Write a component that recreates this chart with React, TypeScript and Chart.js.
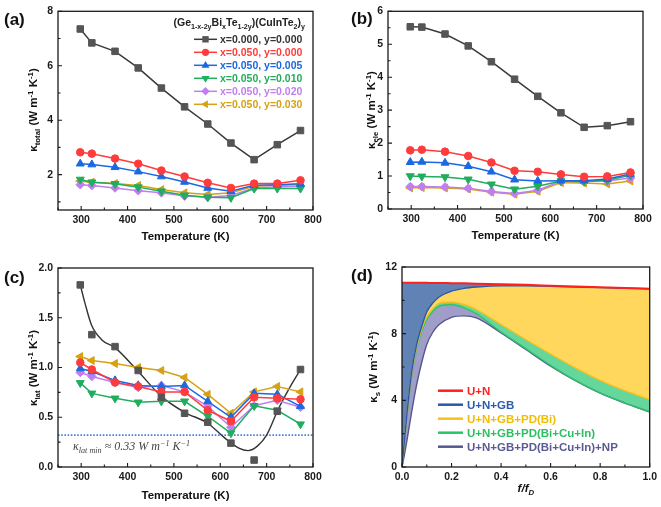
import React, { useEffect, useRef } from 'react';
import { Chart, registerables } from 'chart.js';
Chart.register(...registerables);

// ---------------- data ----------------
const temps = [298, 323, 373, 423, 473, 523, 573, 623, 673, 723, 773];
const seriesLabels = ['x=0.000, y=0.000', 'x=0.050, y=0.000', 'x=0.050, y=0.005', 'x=0.050, y=0.010', 'x=0.050, y=0.020', 'x=0.050, y=0.030'];

const kTot0 = [7.35, 6.84, 6.53, 5.92, 5.18, 4.49, 3.86, 3.16, 2.55, 3.10, 3.62];
const kTot1 = [2.82, 2.77, 2.59, 2.40, 2.15, 1.93, 1.70, 1.51, 1.67, 1.67, 1.79];
const kTot2 = [2.40, 2.37, 2.27, 2.11, 1.93, 1.73, 1.51, 1.39, 1.61, 1.63, 1.66];
const kTot3 = [1.82, 1.72, 1.66, 1.54, 1.39, 1.24, 1.17, 1.15, 1.49, 1.49, 1.49];
const kTot4 = [1.63, 1.60, 1.51, 1.41, 1.33, 1.21, 1.17, 1.23, 1.51, 1.55, 1.57];
const kTot5 = [1.76, 1.72, 1.67, 1.60, 1.45, 1.33, 1.27, 1.33, 1.57, 1.61, 1.63];

const kEle0 = [5.53, 5.52, 5.31, 4.95, 4.47, 3.94, 3.42, 2.92, 2.48, 2.53, 2.65];
const kEle1 = [1.78, 1.80, 1.74, 1.61, 1.41, 1.16, 1.13, 1.05, 0.98, 0.99, 1.11];
const kEle2 = [1.42, 1.43, 1.40, 1.30, 1.13, 0.89, 0.85, 0.86, 0.86, 0.91, 1.06];
const kEle3 = [1.00, 0.99, 0.97, 0.90, 0.75, 0.60, 0.69, 0.85, 0.83, 0.87, 1.02];
const kEle4 = [0.68, 0.68, 0.67, 0.63, 0.53, 0.47, 0.57, 0.84, 0.84, 0.85, 0.94];
const kEle5 = [0.64, 0.65, 0.64, 0.61, 0.51, 0.45, 0.54, 0.80, 0.79, 0.76, 0.85];

const kLat0 = [1.83, 1.33, 1.21, 0.97, 0.70, 0.54, 0.45, 0.24, 0.07, 0.56, 0.98];
const kLat1 = [1.05, 0.98, 0.85, 0.81, 0.755, 0.755, 0.57, 0.46, 0.70, 0.69, 0.68];
const kLat2 = [0.99, 0.96, 0.87, 0.82, 0.81, 0.82, 0.66, 0.50, 0.74, 0.73, 0.61];
const kLat3 = [0.845, 0.74, 0.69, 0.65, 0.66, 0.66, 0.51, 0.34, 0.615, 0.57, 0.43];
const kLat4 = [0.95, 0.91, 0.85, 0.80, 0.82, 0.755, 0.61, 0.40, 0.615, 0.67, 0.60];
const kLat5 = [1.11, 1.07, 1.04, 1.00, 0.97, 0.90, 0.73, 0.54, 0.755, 0.81, 0.755];
const latCurveT = [298, 308, 322, 344, 373, 423, 473, 523, 573, 610, 640, 660, 680, 700, 726, 750, 773];
const latCurveK = [1.83, 1.65, 1.43, 1.28, 1.20, 0.96, 0.71, 0.55, 0.44, 0.29, 0.19, 0.165, 0.21, 0.32, 0.59, 0.80, 0.98];
const latMin = 0.32;

const fGrid = [0, 0.005, 0.02, 0.04, 0.06, 0.08, 0.1, 0.125, 0.15, 0.2, 0.25, 0.3, 0.4, 0.5, 0.6, 0.7, 0.8, 0.9, 1.0];
const ksUN = [11.05, 11.05, 11.05, 11.05, 11.05, 11.05, 11.05, 11.04, 11.04, 11.03, 11.02, 11.0, 10.97, 10.93, 10.88, 10.83, 10.78, 10.74, 10.70];
const ksGB = [0, 0.8, 3.2, 5.8, 7.4, 8.45, 9.3, 9.85, 10.2, 10.55, 10.72, 10.8, 10.87, 10.87, 10.84, 10.8, 10.76, 10.72, 10.68];
const ksPD = [0, 0.8, 3.15, 5.7, 7.25, 8.3, 9.0, 9.5, 9.82, 9.9, 9.75, 9.45, 8.55, 7.65, 6.78, 5.95, 5.2, 4.58, 4.05];
const ksCI = [0, 0.75, 3.1, 5.6, 7.15, 8.15, 8.85, 9.35, 9.65, 9.75, 9.55, 9.2, 8.1, 7.1, 6.1, 5.2, 4.45, 3.85, 3.32];
const ksNP = [0, 0.35, 1.6, 3.4, 5.0, 6.3, 7.35, 8.1, 8.55, 8.98, 9.07, 8.95, 8.05, 7.05, 6.05, 5.18, 4.43, 3.83, 3.3];
const dLabels = ['U+N', 'U+N+GB', 'U+N+GB+PD(Bi)', 'U+N+GB+PD(Bi+Cu+In)', 'U+N+GB+PD(Bi+Cu+In)+NP'];

const tempTicks = [300, 400, 500, 600, 700, 800];
const tempMinor = [250, 350, 450, 550, 650, 750];
const totTicks = [2, 4, 6, 8];
const totMinor = [1, 3, 5, 7];
const eleTicks = [0, 1, 2, 3, 4, 5, 6];
const eleMinor = [0.5, 1.5, 2.5, 3.5, 4.5, 5.5];
const latTicks = [0, 0.5, 1.0, 1.5, 2.0];
const latMinor = [0.25, 0.75, 1.25, 1.75];
const fTicks = [0, 0.2, 0.4, 0.6, 0.8, 1.0];
const fMinor = [0.1, 0.3, 0.5, 0.7, 0.9];
const ksTicks = [0, 4, 8, 12];
const ksMinor = [2, 6, 10];

// ---------------- styles ----------------
const FONT = "'Liberation Sans', Arial, Helvetica, sans-serif";
const colors = ['#3a3a3a', '#ff3b3b', '#1a68e2', '#20ad5e', '#c07ff0', '#d6a214'];
const markerColors = ['#555555', '#ff3b3b', '#1a68e2', '#20ad5e', '#c07ff0', '#d6a214'];
const pStyles = ['rect', 'circle', 'triangle', 'triangle', 'rectRot', 'triangle'];
const pRot = [0, 0, 0, 180, 0, 270];
const pRad = [4.6, 3.8, 4.6, 4.6, 4.3, 4.6];
const dLine = ['#ff1f1f', '#2a58a8', '#f6c01a', '#2cc468', '#56568f'];
const dFill = ['rgba(0,0,0,0)', '#6082b4', '#ffd75c', '#66d79c', '#a19dc9'];
const dText = ['#ff1f1f', '#2a5db0', '#f3bd00', '#2cbf62', '#5a5a94'];

type Seg = { t: string; s?: 'sub' | 'sup' };
type RichOpts = { size: number; color: string; weight?: string; italic?: boolean; align?: 'left' | 'center' | 'right'; rotate?: boolean; family?: string };

function drawRich(ctx: CanvasRenderingContext2D, segs: Seg[], x: number, y: number, o: RichOpts) {
  ctx.save();
  const fam = o.family || FONT;
  const fontFor = (s?: string) => `${o.italic ? 'italic ' : ''}${o.weight || 'bold'} ${s ? o.size * 0.68 : o.size}px ${fam}`;
  let w = 0;
  for (const g of segs) { ctx.font = fontFor(g.s); w += ctx.measureText(g.t).width; }
  ctx.translate(x, y);
  if (o.rotate) ctx.rotate(-Math.PI / 2);
  let cx = o.align === 'left' ? 0 : o.align === 'right' ? -w : -w / 2;
  ctx.fillStyle = o.color;
  ctx.textBaseline = 'alphabetic';
  const base = o.size * 0.36;
  for (const g of segs) {
    ctx.font = fontFor(g.s);
    const dy = g.s === 'sub' ? o.size * 0.26 : g.s === 'sup' ? -o.size * 0.4 : 0;
    ctx.fillText(g.t, cx, base + dy);
    cx += ctx.measureText(g.t).width;
  }
  ctx.restore();
}

function drawFrame(chart: any, xMaj: number[], xMin: number[], yMaj: number[], yMin: number[]) {
  const { ctx, chartArea: a, scales } = chart;
  ctx.save();
  ctx.strokeStyle = '#1a1a1a';
  ctx.lineWidth = 1.3;
  ctx.strokeRect(a.left, a.top, a.right - a.left, a.bottom - a.top);
  ctx.lineWidth = 1.1;
  ctx.beginPath();
  const tx = (v: number, len: number) => { const p = scales.x.getPixelForValue(v); ctx.moveTo(p, a.bottom); ctx.lineTo(p, a.bottom - len); };
  const ty = (v: number, len: number) => { const p = scales.y.getPixelForValue(v); ctx.moveTo(a.left, p); ctx.lineTo(a.left + len, p); };
  xMaj.forEach((v) => tx(v, 4)); xMin.forEach((v) => tx(v, 2.5));
  yMaj.forEach((v) => ty(v, 4)); yMin.forEach((v) => ty(v, 2.5));
  ctx.stroke();
  ctx.restore();
}

function drawMarker(ctx: CanvasRenderingContext2D, i: number, x: number, y: number) {
  ctx.save();
  ctx.fillStyle = markerColors[i];
  ctx.beginPath();
  const r = 3.6;
  if (i === 0) ctx.rect(x - 3.2, y - 3.2, 6.4, 6.4);
  else if (i === 1) ctx.arc(x, y, r, 0, Math.PI * 2);
  else if (i === 2) { ctx.moveTo(x, y - 4.4); ctx.lineTo(x + 4, y + 2.4); ctx.lineTo(x - 4, y + 2.4); ctx.closePath(); }
  else if (i === 3) { ctx.moveTo(x, y + 4.4); ctx.lineTo(x + 4, y - 2.4); ctx.lineTo(x - 4, y - 2.4); ctx.closePath(); }
  else if (i === 4) { ctx.moveTo(x, y - 4.2); ctx.lineTo(x + 4.2, y); ctx.lineTo(x, y + 4.2); ctx.lineTo(x - 4.2, y); ctx.closePath(); }
  else { ctx.moveTo(x - 4.4, y); ctx.lineTo(x + 2.4, y - 4); ctx.lineTo(x + 2.4, y + 4); ctx.closePath(); }
  ctx.fill();
  ctx.restore();
}

const unitSegs: Seg[] = [{ t: ' (W m' }, { t: '-1', s: 'sup' }, { t: ' K' }, { t: '-1', s: 'sup' }, { t: ')' }];

function tempSeries(arrs: number[][]) {
  return arrs.map((arr, i) => ({
    label: seriesLabels[i],
    data: temps.map((t, j) => ({ x: t, y: arr[j] })),
    borderColor: colors[i],
    backgroundColor: markerColors[i],
    pointBackgroundColor: markerColors[i],
    pointBorderColor: markerColors[i],
    pointStyle: pStyles[i],
    pointRotation: pRot[i],
    pointRadius: pRad[i],
    pointBorderWidth: 1,
    borderWidth: 1.5,
    tension: 0,
    fill: false,
  }));
}

type Geo = { W: number; H: number; left: number; right: number; top: number; bottom: number };

function makeOptions(g: Geo, x: { min: number; max: number; ticks: number[]; fmt?: (v: number) => string }, y: { min: number; max: number; ticks: number[]; fmt?: (v: number) => string }) {
  const tickFont = { family: FONT, size: 10.5, weight: 'bold' as const };
  return {
    animation: false as const,
    responsive: false,
    devicePixelRatio: 1,
    layout: { padding: { top: g.top, right: g.W - g.right, left: 0, bottom: 0 } },
    plugins: { legend: { display: false }, tooltip: { enabled: false }, filler: { drawTime: 'beforeDatasetsDraw' as const } },
    scales: {
      x: {
        type: 'linear' as const, min: x.min, max: x.max,
        afterBuildTicks: (s: any) => { s.ticks = x.ticks.map((v) => ({ value: v })); },
        afterFit: (s: any) => { s.height = g.H - g.bottom; },
        grid: { display: false, drawTicks: false },
        border: { display: false },
        ticks: { font: tickFont, color: '#1a1a1a', padding: 4, autoSkip: false, maxRotation: 0, callback: (v: any) => (x.fmt ? x.fmt(Number(v)) : String(v)) },
      },
      y: {
        type: 'linear' as const, min: y.min, max: y.max,
        afterBuildTicks: (s: any) => { s.ticks = y.ticks.map((v) => ({ value: v })); },
        afterFit: (s: any) => { s.width = g.left; },
        grid: { display: false, drawTicks: false },
        border: { display: false },
        ticks: { font: tickFont, color: '#1a1a1a', padding: 5, autoSkip: false, callback: (v: any) => (y.fmt ? y.fmt(Number(v)) : String(v)) },
      },
    },
  };
}

function panelLabel(ctx: CanvasRenderingContext2D, text: string, x: number, y: number) {
  ctx.save();
  ctx.font = `bold 17px ${FONT}`;
  ctx.fillStyle = '#111';
  ctx.textBaseline = 'middle';
  ctx.textAlign = 'left';
  ctx.fillText(text, x, y);
  ctx.restore();
}

function xTitleTemp(chart: any, y: number) {
  const a = chart.chartArea;
  drawRich(chart.ctx, [{ t: 'Temperature (K)' }], (a.left + a.right) / 2, y, { size: 11.5, color: '#111' });
}

// ---------------- panels ----------------
function buildA(canvas: HTMLCanvasElement) {
  const g: Geo = { W: 330, H: 250, left: 58, right: 313, top: 10, bottom: 210 };
  const opts: any = makeOptions(g, { min: 250, max: 800, ticks: tempTicks }, { min: 0.7, max: 8, ticks: totTicks });
  return new Chart(canvas, {
    type: 'line',
    data: { datasets: tempSeries([kTot0, kTot1, kTot2, kTot3, kTot4, kTot5]) as any },
    options: opts,
    plugins: [{
      id: 'decorA',
      afterDraw(chart: any) {
        const ctx = chart.ctx;
        drawFrame(chart, tempTicks, tempMinor, totTicks, totMinor);
        xTitleTemp(chart, 235.5);
        drawRich(ctx, [{ t: 'κ' }, { t: 'total', s: 'sub' }, ...unitSegs], 33, 110, { size: 11.5, color: '#111', rotate: true });
        panelLabel(ctx, '(a)', 4, 20);
        drawRich(ctx, [{ t: '(Ge' }, { t: '1-x-2y', s: 'sub' }, { t: 'Bi' }, { t: 'x', s: 'sub' }, { t: 'Te' }, { t: '1-2y', s: 'sub' }, { t: ')(CuInTe' }, { t: '2', s: 'sub' }, { t: ')' }, { t: 'y', s: 'sub' }], 305, 22, { size: 10.5, color: '#222', align: 'right' });
        for (let i = 0; i < 6; i++) {
          const yy = 39.3 + i * 13;
          ctx.save();
          ctx.strokeStyle = colors[i];
          ctx.lineWidth = 1.5;
          ctx.beginPath(); ctx.moveTo(194, yy); ctx.lineTo(217, yy); ctx.stroke();
          ctx.restore();
          drawMarker(ctx, i, 205.5, yy);
          drawRich(ctx, [{ t: seriesLabels[i] }], 220, yy, { size: 10.5, color: i === 0 ? '#333' : colors[i], align: 'left' });
        }
      },
    }],
  });
}

function buildB(canvas: HTMLCanvasElement) {
  const g: Geo = { W: 331, H: 250, left: 58, right: 313, top: 10, bottom: 209 };
  const opts: any = makeOptions(g, { min: 250, max: 800, ticks: tempTicks }, { min: 0, max: 6, ticks: eleTicks });
  return new Chart(canvas, {
    type: 'line',
    data: { datasets: tempSeries([kEle0, kEle1, kEle2, kEle3, kEle4, kEle5]) as any },
    options: opts,
    plugins: [{
      id: 'decorB',
      afterDraw(chart: any) {
        const ctx = chart.ctx;
        drawFrame(chart, tempTicks, tempMinor, eleTicks, eleMinor);
        xTitleTemp(chart, 235);
        drawRich(ctx, [{ t: 'κ' }, { t: 'ele', s: 'sub' }, ...unitSegs], 41, 110, { size: 11.5, color: '#111', rotate: true });
        panelLabel(ctx, '(b)', 21, 19);
      },
    }],
  });
}

function buildC(canvas: HTMLCanvasElement) {
  const g: Geo = { W: 330, H: 257, left: 58, right: 313, top: 18, bottom: 217 };
  const opts: any = makeOptions(g, { min: 250, max: 800, ticks: tempTicks }, { min: 0, max: 2, ticks: latTicks, fmt: (v) => v.toFixed(1) });
  const pts = tempSeries([kLat0, kLat1, kLat2, kLat3, kLat4, kLat5]) as any[];
  pts[0].showLine = false;
  const curve = {
    label: 'fit',
    data: latCurveT.map((t, j) => ({ x: t, y: latCurveK[j] })),
    borderColor: '#333',
    borderWidth: 1.4,
    pointRadius: 0,
    cubicInterpolationMode: 'monotone',
    fill: false,
  };
  return new Chart(canvas, {
    type: 'line',
    data: { datasets: [...pts, curve] as any },
    options: opts,
    plugins: [{
      id: 'decorC',
      beforeDatasetsDraw(chart: any) {
        const { ctx, chartArea: a, scales } = chart;
        const py = scales.y.getPixelForValue(latMin);
        ctx.save();
        ctx.strokeStyle = '#4a7fd6';
        ctx.lineWidth = 1.6;
        ctx.setLineDash([1.6, 1.6]);
        ctx.beginPath(); ctx.moveTo(a.left, py); ctx.lineTo(a.right, py); ctx.stroke();
        ctx.restore();
      },
      afterDraw(chart: any) {
        const ctx = chart.ctx;
        drawFrame(chart, tempTicks, tempMinor, latTicks, latMinor);
        xTitleTemp(chart, 245);
        drawRich(ctx, [{ t: 'κ' }, { t: 'lat', s: 'sub' }, ...unitSegs], 33, 118, { size: 11.5, color: '#111', rotate: true });
        panelLabel(ctx, '(c)', 4, 28);
        drawRich(ctx, [{ t: 'κ' }, { t: 'lat min', s: 'sub' }, { t: ' ≈ 0.33 W m' }, { t: '−1', s: 'sup' }, { t: ' K' }, { t: '−1', s: 'sup' }], 73, 196, { size: 12, color: '#444', italic: true, weight: 'normal', family: "'Liberation Serif', 'DejaVu Serif', serif", align: 'left' });
      },
    }],
  });
}

function buildD(canvas: HTMLCanvasElement) {
  const g: Geo = { W: 331, H: 257, left: 72, right: 320, top: 17, bottom: 217 };
  const opts: any = makeOptions(g, { min: 0, max: 1, ticks: fTicks, fmt: (v) => v.toFixed(1) }, { min: 0, max: 12, ticks: ksTicks });
  const arrs = [ksUN, ksGB, ksPD, ksCI, ksNP];
  const ds = arrs.map((arr, i) => ({
    label: dLabels[i],
    data: fGrid.map((f, j) => ({ x: f, y: arr[j] })),
    borderColor: dLine[i],
    backgroundColor: dFill[i],
    borderWidth: i === 0 ? 2 : 1.4,
    pointRadius: 0,
    cubicInterpolationMode: 'monotone',
    fill: i === 0 ? false : '-1',
  }));
  return new Chart(canvas, {
    type: 'line',
    data: { datasets: ds as any },
    options: opts,
    plugins: [{
      id: 'decorD',
      afterDraw(chart: any) {
        const ctx = chart.ctx;
        const a = chart.chartArea;
        drawFrame(chart, fTicks, fMinor, ksTicks, ksMinor);
        drawRich(ctx, [{ t: 'f/f' }, { t: 'D', s: 'sub' }], (a.left + a.right) / 2, 238, { size: 11.5, color: '#111', italic: true });
        drawRich(ctx, [{ t: 'κ' }, { t: 's', s: 'sub' }, ...unitSegs], 43, 117, { size: 11.5, color: '#111', rotate: true });
        panelLabel(ctx, '(d)', 21, 26);
        for (let i = 0; i < 5; i++) {
          const yy = 140.7 + i * 14;
          ctx.save();
          ctx.strokeStyle = dLine[i];
          ctx.lineWidth = 2.5;
          ctx.beginPath(); ctx.moveTo(108, yy); ctx.lineTo(133, yy); ctx.stroke();
          ctx.restore();
          drawRich(ctx, [{ t: dLabels[i] }], 137, yy, { size: 11.5, color: dText[i], align: 'left' });
        }
      },
    }],
  });
}

function Panel(props: { x: number; y: number; w: number; h: number; build: (c: HTMLCanvasElement) => Chart }) {
  const ref = useRef<HTMLCanvasElement | null>(null);
  useEffect(() => {
    if (!ref.current) return;
    const chart = props.build(ref.current);
    return () => chart.destroy();
  }, []);
  return (
    <canvas
      ref={ref}
      width={props.w}
      height={props.h}
      style={{ position: 'absolute', left: props.x, top: props.y, width: props.w, height: props.h }}
    />
  );
}

export default function App() {
  return (
    <div style={{ position: 'absolute', left: 0, top: 0, width: 661, height: 507, background: '#ffffff', overflow: 'hidden' }}>
      <Panel x={0} y={0} w={330} h={250} build={buildA} />
      <Panel x={330} y={0} w={331} h={250} build={buildB} />
      <Panel x={0} y={250} w={330} h={257} build={buildC} />
      <Panel x={330} y={250} w={331} h={257} build={buildD} />
    </div>
  );
}
